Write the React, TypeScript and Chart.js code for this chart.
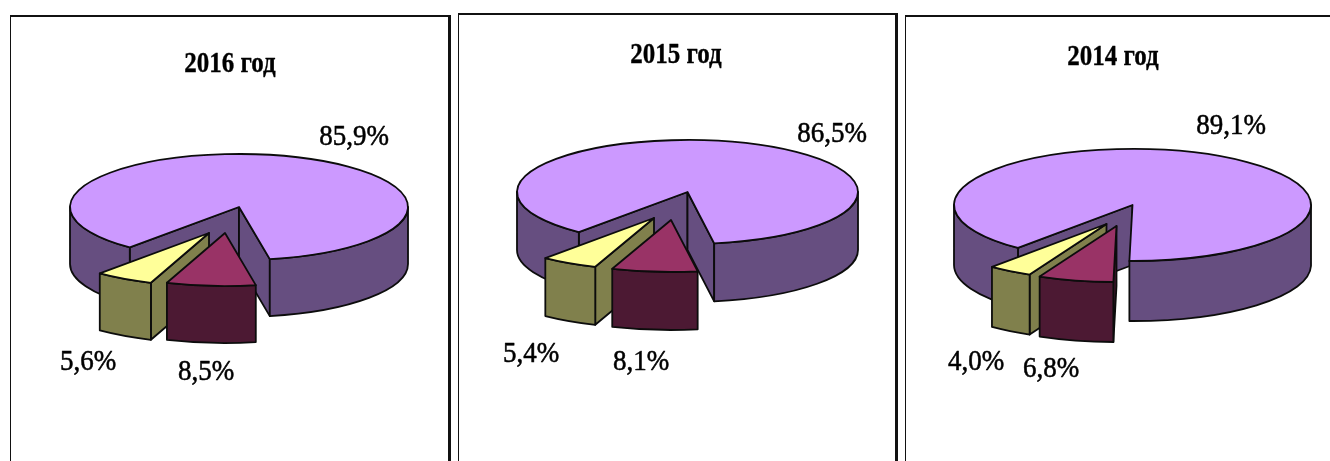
import React, { useEffect, useRef } from "react";
import { Chart, registerables } from "chart.js";

Chart.register(...registerables);

const categories = ["Красный", "Жёлтый", "Сиреневый"];
const values2016 = [8.5, 5.6, 85.9];
const values2015 = [8.1, 5.4, 86.5];
const values2014 = [6.8, 4.0, 89.1];
const titles = ["2016 год", "2015 год", "2014 год"];

const topColors = ["#993366", "#FFFF99", "#CC99FF"];
const wallColors = ["#4C1933", "#80804C", "#664E80"];
const drawOrder = [2, 1, 0];

type Layout = {
  title: string;
  values: number[];
  box: { left: number; top: number; width: number; height: number };
  cx: number; cy: number; rx: number; ry: number; depth: number;
  rotation: number;
  explode: number[][];
  titlePos: number[];
  labelPos: number[][];
};

const panels: Layout[] = [
  {
    title: titles[0], values: values2016,
    box: { left: 9, top: 15, width: 441, height: 446 },
    cx: 239, cy: 207, rx: 169, ry: 53, depth: 57, rotation: 169.5,
    explode: [[-14, 26], [-30, 26], [0, 0]],
    titlePos: [230, 64],
    labelPos: [[206, 372], [88, 362], [354, 137]],
  },
  {
    title: titles[1], values: values2015,
    box: { left: 457, top: 13, width: 440, height: 448 },
    cx: 687.5, cy: 192, rx: 170.5, ry: 52, depth: 58, rotation: 171,
    explode: [[-16.5, 28], [-33.5, 26], [0, 0]],
    titlePos: [676, 55],
    labelPos: [[641, 362], [531, 354], [832, 134]],
  },
  {
    title: titles[2], values: values2014,
    box: { left: 904, top: 15, width: 430, height: 446 },
    cx: 1132.5, cy: 205, rx: 178.5, ry: 56, depth: 60, rotation: 181,
    explode: [[-16, 21], [-26, 19], [0, 0]],
    titlePos: [1113, 57],
    labelPos: [[1051, 369], [976, 362], [1231, 126]],
  },
];

const OUTLINE = "#0c0c0c";

function pie3dPlugin(p: Layout) {
  const ox = p.box.left;
  const oy = p.box.top;
  const k = p.ry / p.rx;
  const stretched = (ctx: CanvasRenderingContext2D, text: string, x: number, y: number, sy: number, weight: number) => {
    ctx.save();
    ctx.translate(x, y);
    ctx.scale(1, sy);
    ctx.fillText(text, 0, 0);
    ctx.lineWidth = weight;
    ctx.strokeStyle = "#000";
    ctx.strokeText(text, 0, 0);
    ctx.restore();
  };
  return {
    id: "pie3d",
    beforeDatasetsDraw(chart: any) {
      const ctx: CanvasRenderingContext2D = chart.ctx;
      const arcs = chart.getDatasetMeta(0).data;
      ctx.lineWidth = 1.8;
      ctx.strokeStyle = OUTLINE;
      ctx.lineJoin = "round";

      for (const i of drawOrder) {
        const el = arcs[i];
        const { x, y, startAngle: a0, endAngle: a1, outerRadius: r } = el;
        const px = x + p.explode[i][0];
        const py = y + p.explode[i][1];
        const ry = r * k;
        const d = p.depth;
        ctx.fillStyle = wallColors[i];

        const radial = (a: number) => {
          const ex = px + Math.cos(a) * r;
          const ey = py + Math.sin(a) * ry;
          ctx.beginPath();
          ctx.moveTo(px, py);
          ctx.lineTo(ex, ey);
          ctx.lineTo(ex, ey + d);
          ctx.lineTo(px, py + d);
          ctx.closePath();
          ctx.fill();
          ctx.stroke();
        };
        if (Math.cos(a0) < 0) radial(a0);
        if (Math.cos(a1) > 0) radial(a1);

        for (const base of [-2 * Math.PI, 0, 2 * Math.PI]) {
          const lo = Math.max(a0, base);
          const hi = Math.min(a1, base + Math.PI);
          if (hi <= lo) continue;
          ctx.beginPath();
          ctx.ellipse(px, py, r, ry, 0, lo, hi);
          ctx.lineTo(px + Math.cos(hi) * r, py + Math.sin(hi) * ry + d);
          ctx.ellipse(px, py + d, r, ry, 0, hi, lo, true);
          ctx.closePath();
          ctx.fill();
          ctx.stroke();
        }

        // The slice's top face is the library's own arc, flattened.
        ctx.save();
        ctx.translate(px, py);
        ctx.scale(1, k);
        ctx.translate(-x, -y);
        el.draw(ctx);
        ctx.restore();

        ctx.beginPath();
        ctx.moveTo(px, py);
        ctx.ellipse(px, py, r, ry, 0, a0, a1);
        ctx.closePath();
        ctx.stroke();
      }
      return false;
    },
    afterDraw(chart: any) {
      const ctx: CanvasRenderingContext2D = chart.ctx;
      ctx.save();
      ctx.fillStyle = "#000";
      ctx.textAlign = "center";
      ctx.textBaseline = "middle";
      ctx.font = 'bold 25px "Liberation Serif"';
      stretched(ctx, p.title, p.titlePos[0] - ox, p.titlePos[1] - oy, 1.2, 0.3);
      ctx.font = '27px "Liberation Serif"';
      p.values.forEach((v, i) => {
        const text = v.toFixed(1).replace(".", ",") + "%";
        stretched(ctx, text, p.labelPos[i][0] - ox, p.labelPos[i][1] - oy, 1.12, 0.5);
      });
      ctx.restore();
    },
  };
}

function Panel({ p }: { p: Layout }) {
  const ref = useRef<HTMLCanvasElement>(null);
  useEffect(() => {
    const canvas = ref.current!;
    const { left, top, width, height } = p.box;
    const chart = new Chart(canvas, {
      type: "pie",
      data: {
        labels: categories,
        datasets: [{ data: p.values, backgroundColor: topColors, borderWidth: 0, offset: 0 }],
      },
      options: {
        responsive: false,
        animation: false,
        rotation: p.rotation,
        events: [],
        layout: {
          padding: {
            left: p.cx - p.rx - left,
            right: left + width - p.cx - p.rx,
            top: p.cy - p.rx - top,
            bottom: top + height - p.cy - p.rx,
          },
        },
        plugins: { legend: { display: false }, tooltip: { enabled: false }, title: { display: false } },
      },
      plugins: [pie3dPlugin(p)],
    } as any);
    return () => chart.destroy();
  }, [p]);
  const { left, top, width, height } = p.box;
  return (
    <div style={{ position: "absolute", left, top, width, height, boxSizing: "border-box", borderTop: "2px solid #111", borderLeft: "1px solid #111", borderRight: "3px solid #111", marginLeft: 1 }}>
      <canvas ref={ref} width={width} height={height} style={{ position: "absolute", left: -2, top: -2, width, height, filter: "blur(0.5px)" }} />
    </div>
  );
}

export default function App() {
  return (
    <div style={{ position: "fixed", left: 0, top: 0, width: 1330, height: 461, overflow: "hidden", background: "#fff" }}>
      {panels.map((p) => (
        <Panel key={p.title} p={p} />
      ))}
    </div>
  );
}
